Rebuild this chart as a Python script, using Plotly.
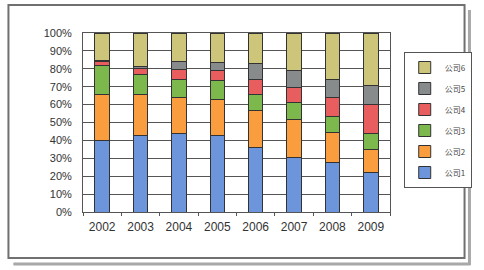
import plotly.graph_objects as go

years = ["2002", "2003", "2004", "2005", "2006", "2007", "2008", "2009"]
series_names = ["公司1", "公司2", "公司3", "公司4", "公司5", "公司6"]
c1 = [40.0, 43.0, 43.8, 42.6, 35.8, 30.7, 27.9, 21.8]
c2 = [25.7, 22.7, 20.4, 20.2, 21.0, 21.1, 16.6, 13.0]
c3 = [15.9, 11.2, 9.9, 10.8, 8.9, 9.1, 9.1, 8.8]
c4 = [2.6, 3.2, 5.4, 5.2, 8.2, 8.9, 10.6, 16.2]
c5 = [0.3, 1.3, 4.7, 4.8, 9.0, 9.3, 10.1, 10.8]
c6 = [15.5, 18.6, 15.8, 16.4, 17.1, 20.9, 25.7, 29.4]
values = [c1, c2, c3, c4, c5, c6]
colors = ["#6d95dc", "#f99d3e", "#7cb84c", "#e85d5d", "#878b8c", "#cdc67a"]

fig = go.Figure()
for i, (name, vals, col) in enumerate(zip(series_names, values, colors)):
    fig.add_trace(go.Bar(
        x=years, y=vals, name=name, legendgroup=name,
        legendrank=100 - i,
        marker=dict(color=col, line=dict(color="#333333", width=1)),
        width=0.38,
    ))

# plot area pixel geometry
L, R, T, B = 83, 396, 33, 212
W, H = R - L, B - T

def px(x):
    return (x - L) / W

def py(y):
    return (B - y) / H

shapes = [
    # shadow of frame (bottom and right)
    dict(type="line", xref="paper", yref="paper",
         x0=px(12), x1=px(478), y0=py(264), y1=py(264),
         line=dict(color="#a8a8a8", width=3), layer="below"),
    dict(type="line", xref="paper", yref="paper",
         x0=px(477), x1=px(477), y0=py(10), y1=py(265),
         line=dict(color="#a8a8a8", width=3), layer="below"),
    # main frame
    dict(type="rect", xref="paper", yref="paper",
         x0=px(7), x1=px(472), y0=py(258), y1=py(5),
         line=dict(color="#707070", width=2), fillcolor="white", layer="below"),
]

fig.update_layout(
    barmode="stack",
    width=484, height=270,
    margin=dict(l=L, r=484 - R, t=T, b=270 - B),
    paper_bgcolor="white", plot_bgcolor="white",
    font=dict(family="Liberation Sans, Arial, Noto Sans CJK SC", size=10, color="#333333"),
    shapes=shapes,
    showlegend=True,
    legend=dict(
        x=px(410), y=py(52), xanchor="left", yanchor="top",
        traceorder="grouped",
        bordercolor="#555555", borderwidth=1,
        font=dict(size=8, family="Noto Sans CJK SC, Liberation Sans", color="#444444"),
        itemwidth=30, tracegroupgap=2,
        bgcolor="white",
    ),
    xaxis=dict(
        showline=True, linecolor="#555555", linewidth=1, mirror=True,
        showgrid=False, ticks="outside", ticklen=3, tickcolor="#555555",
        tickson="boundaries", tickfont=dict(size=12), ticklabelstandoff=4,
    ),
    yaxis=dict(
        range=[0, 100], tickvals=list(range(0, 101, 10)),
        ticktext=[f"{v}%" for v in range(0, 101, 10)],
        showgrid=True, gridcolor="#555555", gridwidth=1,
        showline=True, linecolor="#555555", linewidth=1, mirror=True,
        ticks="", tickfont=dict(size=11), ticklabelstandoff=8,
    ),
)

fig.write_html("out.html")
